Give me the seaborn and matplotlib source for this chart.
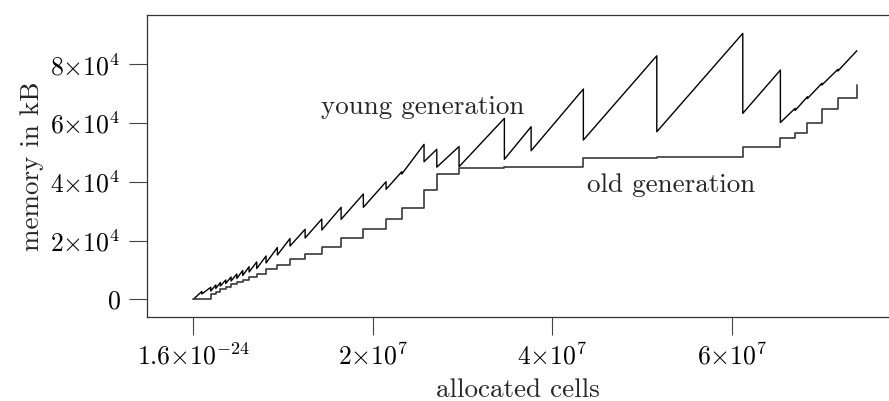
import numpy as np
import pandas as pd
import matplotlib
matplotlib.use('Agg')
import matplotlib.pyplot as plt
import seaborn as sns

# collection points (allocated cells)
gc_cells = [0.94e6, 1.94e6, 2.50e6, 3.01e6, 3.61e6, 4.20e6, 4.84e6, 5.50e6, 6.21e6,
            7.06e6, 8.10e6, 9.36e6, 10.77e6, 12.45e6, 14.31e6, 16.46e6, 18.94e6,
            21.47e6, 23.22e6, 25.70e6, 27.12e6, 29.60e6, 34.65e6, 37.63e6, 43.45e6,
            51.63e6, 61.21e6, 65.40e6, 67.04e6, 68.41e6, 70.02e6, 71.80e6]
end_cells = 73.92e6

# young generation: value just before and just after each collection (kB)
young_peak = [2.66e3, 4.08e3, 4.87e3, 5.72e3, 6.57e3, 7.59e3, 8.61e3, 9.80e3, 11.10e3,
              12.70e3, 14.74e3, 17.63e3, 20.70e3, 23.83e3, 27.33e3, 31.32e3, 35.84e3,
              40.03e3, 43.44e3, 52.76e3, 51.06e3, 52.01e3, 61.61e3, 58.75e3, 71.59e3,
              82.92e3, 90.54e3, 78.05e3, 65.02e3, 68.97e3, 73.53e3, 78.29e3]
young_after = [1.80e3, 2.83e3, 3.68e3, 4.53e3, 5.38e3, 6.23e3, 7.08e3, 8.10e3, 9.29e3,
               10.48e3, 12.36e3, 15.08e3, 18.14e3, 20.87e3, 23.59e3, 27.23e3, 31.32e3,
               37.44e3, 42.65e3, 46.84e3, 45.00e3, 45.14e3, 47.66e3, 50.58e3, 54.23e3,
               57.05e3, 63.31e3, 60.18e3, 64.27e3, 68.35e3, 72.95e3, 77.71e3]
young_end = 84.62e3

# old generation level after each collection (kB)
old_after = [0.10e3, 1.70e3, 2.59e3, 3.40e3, 4.29e3, 5.11e3, 5.89e3, 6.67e3, 7.69e3,
             8.71e3, 10.21e3, 11.78e3, 13.62e3, 15.42e3, 17.90e3, 20.76e3, 23.83e3,
             27.23e3, 31.18e3, 37.21e3, 42.50e3, 44.70e3, 44.90e3, 45.10e3, 48.00e3,
             48.54e3, 51.95e3, 54.81e3, 56.71e3, 59.91e3, 64.68e3, 68.62e3]
old_end = 72.95e3

young_x, young_y = [0.0], [0.0]
for g, p, a in zip(gc_cells, young_peak, young_after):
    young_x += [g, g]
    young_y += [p, a]
young_x.append(end_cells)
young_y.append(young_end)
young = pd.DataFrame({'cells': young_x, 'kB': young_y})

old_x = [0.0] + gc_cells + [end_cells, end_cells]
old_y = [0.0] + old_after + [old_after[-1], old_end]
old = pd.DataFrame({'cells': old_x, 'kB': old_y})

sns.set_theme(style='ticks')
plt.rcParams['font.family'] = ['cmr10', 'DejaVu Serif']
plt.rcParams['mathtext.fontset'] = 'cm'
plt.rcParams['axes.unicode_minus'] = False

fig = plt.figure(figsize=(8.89, 4.01), dpi=100)
ax = fig.add_axes([0.1654, 0.2095, 0.8346, 0.7531])

sns.lineplot(data=young, x='cells', y='kB', sort=False, estimator=None,
             color='black', linewidth=1.0, ax=ax)
sns.lineplot(data=old, x='cells', y='kB', sort=False, estimator=None,
             color='#3a3a3a', linewidth=1.2, drawstyle='steps-post', ax=ax)

ax.set_xlim(-5.16e6, 77.5e6)
ax.set_ylim(-6.03e3, 96.8e3)

ax.set_xticks([1.6e-24, 2e7, 4e7, 6e7])
ax.set_xticklabels([r'$1.6{\times}10^{-24}$', r'$2{\times}10^{7}$',
                    r'$4{\times}10^{7}$', r'$6{\times}10^{7}$'])
ax.set_yticks([0, 2e4, 4e4, 6e4, 8e4])
ax.set_yticklabels([r'$0$', r'$2{\times}10^{4}$', r'$4{\times}10^{4}$',
                    r'$6{\times}10^{4}$', r'$8{\times}10^{4}$'])
ax.tick_params(direction='out', length=13, width=0.8, color='#444444',
               labelsize=18.5, pad=6, labelcolor='black')

ax.set_xlabel('allocated cells', fontsize=19.5, labelpad=6)
ax.set_ylabel('memory in kB', fontsize=19.5, labelpad=5)

for side in ['left', 'bottom', 'top']:
    ax.spines[side].set_visible(True)
    ax.spines[side].set_linewidth(0.9)
    ax.spines[side].set_color('#333333')
ax.spines['right'].set_visible(False)

ax.text(25.6e6, 65.5e3, 'young generation', fontsize=19.5, ha='center', va='center')
ax.text(53.2e6, 38.9e3, 'old generation', fontsize=19.5, ha='center', va='center')

fig.savefig('out.png', dpi=100)
